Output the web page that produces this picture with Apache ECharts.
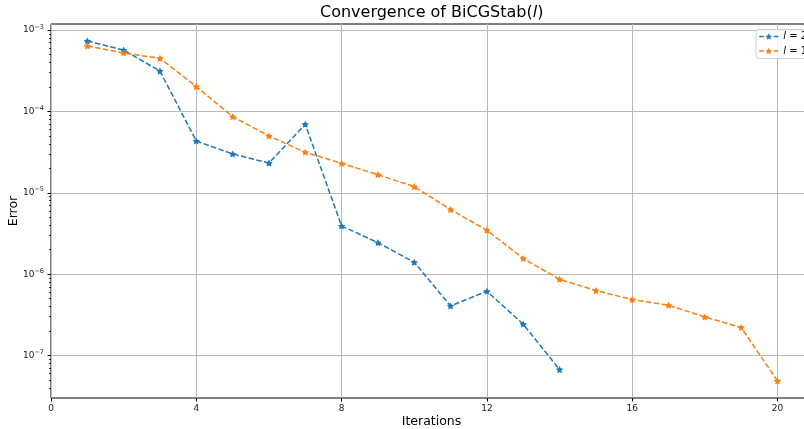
<!DOCTYPE html>
<html>
<head>
<meta charset="utf-8">
<script src="https://cdn.jsdelivr.net/npm/echarts@6/dist/echarts.min.js"></script>
<style>html,body{margin:0;padding:0;background:#fff}#c{width:804px;height:429px}</style>
</head>
<body>
<div id="c"></div>
<script>
const iterationsL2 = [1,2,3,4,5,6,7,8,9,10,11,12,13,14];
const errorL2 = [7.33e-4, 5.67e-4, 3.13e-4, 4.33e-5, 3.0e-5, 2.32e-5, 6.95e-5, 3.91e-6, 2.44e-6, 1.40e-6, 4.07e-7, 6.17e-7, 2.43e-7, 6.73e-8];
const iterationsL1 = [1,2,3,4,5,6,7,8,9,10,11,12,13,14,15,16,17,18,19,20];
const errorL1 = [6.36e-4, 5.22e-4, 4.49e-4, 2.02e-4, 8.63e-5, 4.99e-5, 3.15e-5, 2.30e-5, 1.67e-5, 1.19e-5, 6.22e-6, 3.46e-6, 1.56e-6, 8.65e-7, 6.29e-7, 4.88e-7, 4.15e-7, 2.98e-7, 2.21e-7, 4.88e-8];
const xTicks = [0,4,8,12,16,20];
const yMajorExps = [-7,-6,-5,-4,-3];
const seriesNames = ['l = 2', 'l = 1'];

const yMin = 3.01e-8, yMax = 1.186e-3;
const minorTicks = [];
for (const e of [-8,-7,-6,-5,-4]) {
  for (let k = 2; k <= 9; k++) {
    const v = Number((k + 'e' + e));
    if (v >= yMin && v <= yMax) minorTicks.push(v);
  }
}
const majorTicks = yMajorExps.map(e => Number('1e' + e));

const FONT = 'DejaVu Sans';
const TXT = '#1a1a1a';
const DASH = [5.5, 2.4];
const star = 'path://M0,-10 L2.94,-4.05 9.51,-3.09 4.76,1.55 5.88,8.09 0,5 -5.88,8.09 -4.76,1.55 -9.51,-3.09 -2.94,-4.05 Z';

const chart = echarts.init(document.getElementById('c'), null, {renderer: 'canvas'});
chart.setOption({
  animation: false,
  backgroundColor: '#fff',
  textStyle: {fontFamily: FONT},
  title: {
    text: 'Convergence of BiCGStab({i|l})',
    left: 431.7, top: 5, padding: 0, textAlign: 'center',
    textStyle: {fontFamily: FONT, fontSize: 16, fontWeight: 'normal', color: '#000',
      rich: {i: {fontFamily: FONT, fontSize: 16, fontStyle: 'italic', color: '#000'}}}
  },
  legend: {
    orient: 'vertical', left: 756, top: 29.5,
    padding: [1, 4, 1.5, 2.5],
    itemWidth: 19, itemHeight: 8, itemGap: 2.5,
    backgroundColor: 'rgba(255,255,255,0.8)', borderColor: '#d0d0d0', borderWidth: 1, borderRadius: 3,
    data: seriesNames,
    lineStyle: {type: [4.5, 10, 4.5], width: 1.5},
    formatter: n => n.replace(/^l/, '{i|l}'),
    textStyle: {fontFamily: FONT, fontSize: 10, color: '#000', lineHeight: 12,
      rich: {i: {fontFamily: FONT, fontSize: 10, fontStyle: 'italic', color: '#000', lineHeight: 12}}}
  },
  grid: {left: 51, top: 24, width: 761, height: 374, outerBoundsMode: 'none', containLabel: false,
    show: true, borderColor: '#000', borderWidth: 1, backgroundColor: 'transparent'},
  xAxis: {
    type: 'value', min: 0, max: 20.95, interval: 4,
    name: 'Iterations', nameLocation: 'middle', nameGap: 17, nameMoveOverlap: false,
    nameTextStyle: {fontFamily: FONT, fontSize: 12.5, color: '#000'},
    axisLine: {show: false},
    axisTick: {show: true, length: 3.5, lineStyle: {color: '#000', width: 1}},
    axisLabel: {show: true, margin: 6, fontFamily: FONT, fontSize: 9, color: TXT, showMaxLabel: false,
      formatter: v => xTicks.includes(v) ? String(v) : ''},
    splitLine: {show: true, lineStyle: {color: '#b8b8b8', width: 1}}
  },
  yAxis: [{
    type: 'log', logBase: 10, min: yMin, max: yMax,
    name: 'Error', nameLocation: 'middle', nameGap: 31, nameMoveOverlap: false,
    nameTextStyle: {fontFamily: FONT, fontSize: 12.5, color: '#000'},
    axisLine: {show: false},
    axisTick: {show: true, length: 3.5, customValues: majorTicks, lineStyle: {color: '#000', width: 1}},
    axisLabel: {show: true, margin: 7, fontFamily: FONT, fontSize: 9, color: TXT,
      customValues: majorTicks,
      formatter: function (v) {
        const l = Math.log10(v); const n = Math.round(l);
        if (Math.abs(l - n) > 1e-6) return '';
        return '10{sup|\u2212' + (-n) + '}';
      },
      rich: {sup: {fontFamily: FONT, fontSize: 6.5, color: TXT, padding: [0, 0, 6, 0]}}
    },
    splitLine: {show: true, lineStyle: {color: '#b8b8b8', width: 1}}
  }, {
    type: 'log', logBase: 10, min: yMin, max: yMax, position: 'left', offset: 0,
    axisLine: {show: false}, axisLabel: {show: false}, splitLine: {show: false},
    axisTick: {show: true, length: 2, customValues: minorTicks, lineStyle: {color: '#000', width: 0.8}}
  }],
  series: [{
    name: seriesNames[0], type: 'line', yAxisIndex: 0,
    data: iterationsL2.map((x, i) => [x, errorL2[i]]),
    symbol: star, symbolSize: 7.5, symbolKeepAspect: true,
    itemStyle: {color: '#1f77b4'},
    lineStyle: {color: '#1f77b4', width: 1.5, type: DASH}
  }, {
    name: seriesNames[1], type: 'line', yAxisIndex: 0,
    data: iterationsL1.map((x, i) => [x, errorL1[i]]),
    symbol: star, symbolSize: 7.5, symbolKeepAspect: true,
    itemStyle: {color: '#ff7f0e'},
    lineStyle: {color: '#ff7f0e', width: 1.5, type: DASH}
  }]
});
</script>
</body>
</html>
